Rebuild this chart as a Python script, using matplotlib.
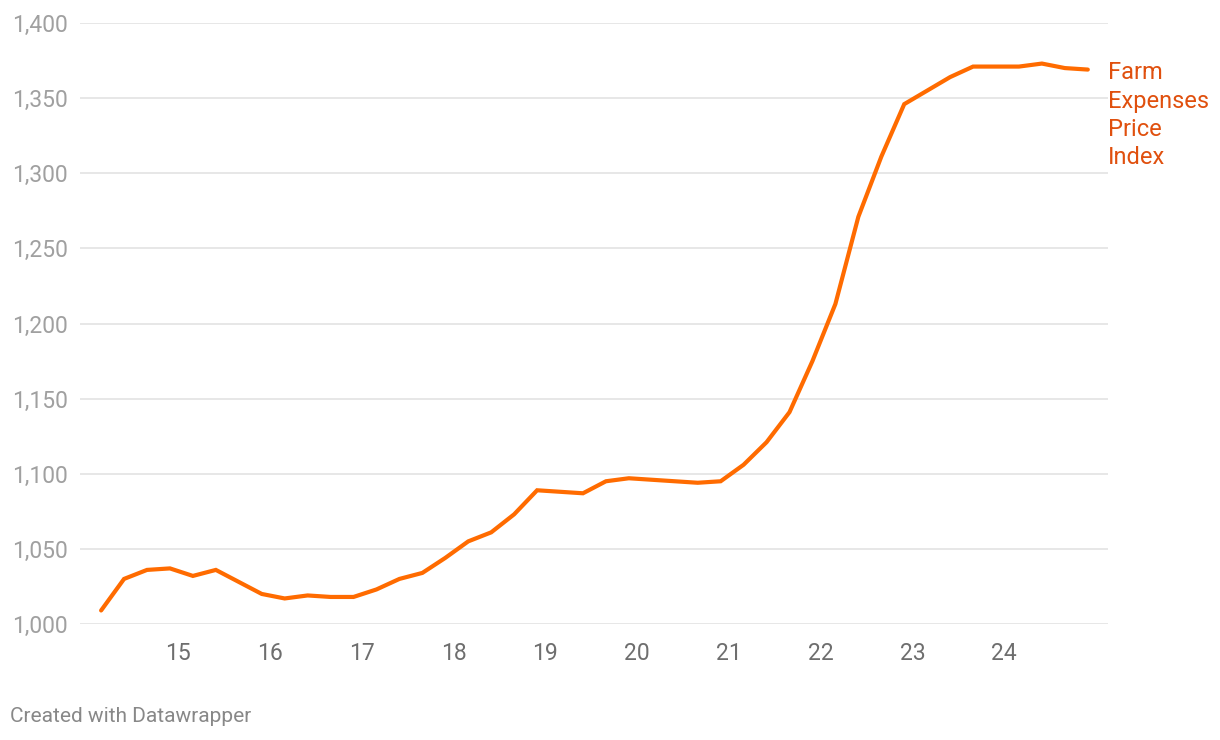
import matplotlib
matplotlib.use("Agg")
import matplotlib.pyplot as plt
import numpy as np

# data
# ====
# quarterly readings, first one ~ March 2014
START_YEAR = 2014.16
index_values = [
    1009, 1030, 1036, 1037, 1032, 1036, 1028, 1020, 1017, 1019, 1018,
    1018, 1023, 1030, 1034, 1044, 1055, 1061, 1073, 1089, 1088, 1087,
    1095, 1097, 1096, 1095, 1094, 1095, 1106, 1121, 1141, 1175, 1213,
    1271, 1311, 1346, 1355, 1364, 1371, 1371, 1371, 1373, 1370, 1369,
]
year_ticks = [2015, 2016, 2017, 2018, 2019, 2020, 2021, 2022, 2023, 2024]
year_labels = ["15", "16", "17", "18", "19", "20", "21", "22", "23", "24"]
y_ticks = [1000, 1050, 1100, 1150, 1200, 1250, 1300, 1350, 1400]
series_label = "Farm\nExpenses\nPrice\nIndex"

# style
# =====
LINE_COLOR  = "#ff6b00"
LABEL_COLOR = "#e0500e"
GRID_COLOR  = "#e5e5e5"
plt.rcParams["font.family"] = ["Roboto", "DejaVu Sans"]

x = START_YEAR + 0.25 * np.arange(len(index_values))

fig = plt.figure(figsize=(12.2, 7.4), dpi=100)
ax = fig.add_axes([80 / 1220, 116 / 740, 1028 / 1220, 601 / 740])

ax.plot(x, index_values, color=LINE_COLOR, lw=3.0, solid_joinstyle="miter",
        solid_capstyle="round", zorder=3, clip_on=False)

ax.set_xlim(2013.93, 2025.13)
ax.set_ylim(1000, 1400)
ax.set_yticks(y_ticks)
ax.set_yticklabels([f"{v:,}" for v in y_ticks])
ax.set_xticks(year_ticks)
ax.set_xticklabels(year_labels)
ax.tick_params(axis="y", length=0, pad=8.6, labelsize=16.5, labelcolor="#a0a0a0")
ax.tick_params(axis="x", length=0, pad=13, labelsize=16.5, labelcolor="#6e6e6e")
ax.grid(axis="y", color=GRID_COLOR, lw=1.3, zorder=0)
ax.set_axisbelow(True)
for s in ax.spines.values():
    s.set_visible(False)

ax.annotate(series_label, xy=(x[-1], index_values[-1]), xytext=(14.4, 6.0),
            textcoords="offset points", ha="left", va="top", fontsize=17,
            color=LABEL_COLOR, linespacing=1.3, annotation_clip=False)

fig.text(10 / 1220, 1 - 717 / 740, "Created with Datawrapper", ha="left",
         va="center", fontsize=15, color="#888888")

fig.savefig("out.png", dpi=100)
